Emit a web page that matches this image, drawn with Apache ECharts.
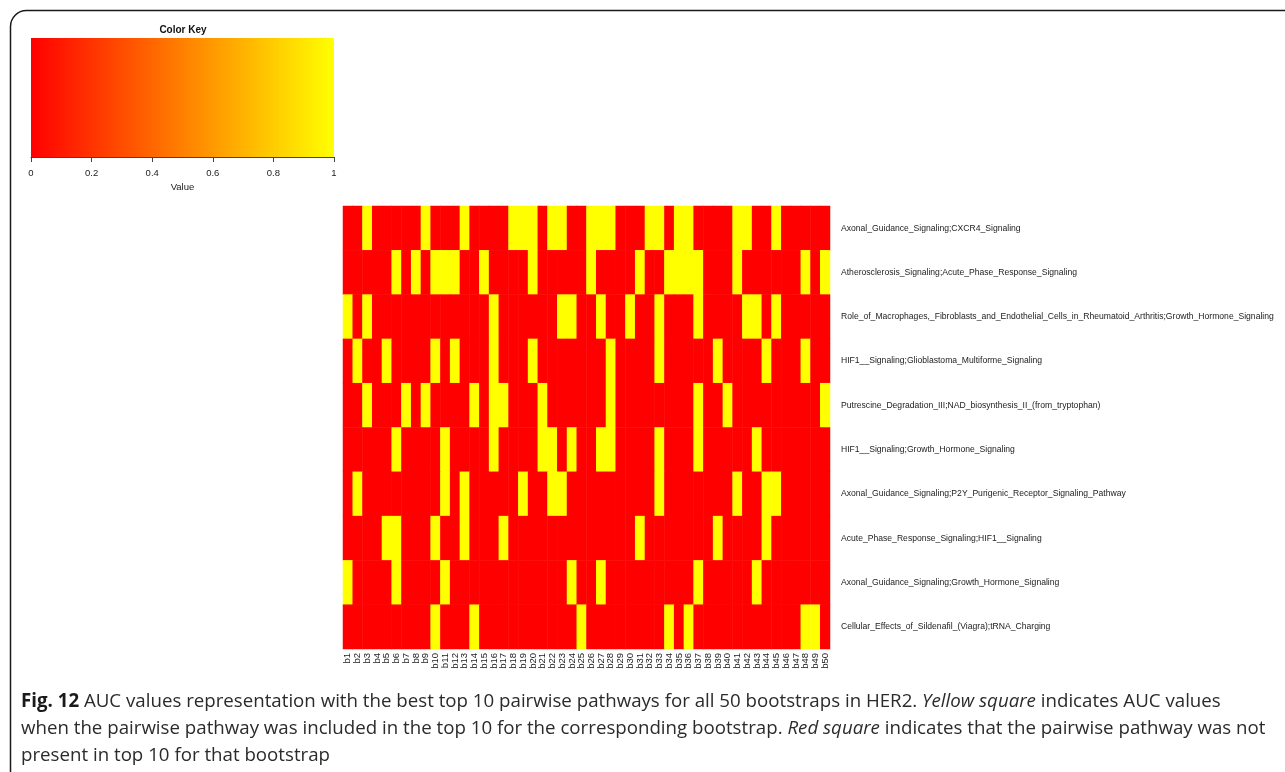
<!DOCTYPE html>
<html>
<head>
<meta charset="utf-8">
<script src="https://cdn.jsdelivr.net/npm/echarts@6/dist/echarts.min.js"></script>
<style>
html,body{margin:0;padding:0;background:#fff;}
#chart{width:1285px;height:772px;}
</style>
</head>
<body>
<div id="chart"></div>
<script>
// ---- data ----
const bootstraps = Array.from({length: 50}, (_, i) => 'b' + (i + 1));
const pathways = [
  'Axonal_Guidance_Signaling;CXCR4_Signaling',
  'Atherosclerosis_Signaling;Acute_Phase_Response_Signaling',
  'Role_of_Macrophages,_Fibroblasts_and_Endothelial_Cells_in_Rheumatoid_Arthritis;Growth_Hormone_Signaling',
  'HIF1__Signaling;Glioblastoma_Multiforme_Signaling',
  'Putrescine_Degradation_III;NAD_biosynthesis_II_(from_tryptophan)',
  'HIF1__Signaling;Growth_Hormone_Signaling',
  'Axonal_Guidance_Signaling;P2Y_Purigenic_Receptor_Signaling_Pathway',
  'Acute_Phase_Response_Signaling;HIF1__Signaling',
  'Axonal_Guidance_Signaling;Growth_Hormone_Signaling',
  'Cellular_Effects_of_Sildenafil_(Viagra);tRNA_Charging'
];
// values per pathway over b1..b50 (1 = in top 10 / yellow, 0 = absent / red)
const row1 = [0,0,1,0,0,0,0,0,1,0, 0,0,1,0,0,0,0,1,1,1, 0,1,1,0,0,1,1,1,0,0, 0,1,1,0,1,1,0,0,0,0, 1,1,0,0,1,0,0,0,0,0];
const row2 = [0,0,0,0,0,1,0,1,0,1, 1,1,0,0,1,0,0,0,0,1, 0,0,0,0,0,1,0,0,0,0, 1,0,0,1,1,1,1,0,0,0, 1,0,0,0,0,0,0,1,0,1];
const row3 = [1,0,1,0,0,0,0,0,0,0, 0,0,0,0,0,1,0,0,0,0, 0,0,1,1,0,0,1,0,0,1, 0,0,1,0,0,0,1,0,0,0, 0,1,1,0,1,0,0,0,0,0];
const row4 = [0,1,0,0,1,0,0,0,0,1, 0,1,0,0,0,1,0,0,0,1, 0,0,0,0,0,0,0,1,0,0, 0,0,1,0,0,0,0,0,1,0, 0,0,0,1,0,0,0,1,0,0];
const row5 = [0,0,1,0,0,0,1,0,1,0, 0,0,0,1,0,1,1,0,0,0, 1,0,0,0,0,0,0,1,0,0, 0,0,0,0,0,0,1,0,0,1, 0,0,0,0,0,0,0,0,0,1];
const row6 = [0,0,0,0,0,1,0,0,0,0, 1,0,0,0,0,1,0,0,0,0, 1,1,0,1,0,0,1,1,0,0, 0,0,1,0,0,0,1,0,0,0, 0,0,1,0,0,0,0,0,0,0];
const row7 = [0,1,0,0,0,0,0,0,0,0, 1,0,1,0,0,0,0,0,1,0, 0,1,1,0,0,0,0,0,0,0, 0,0,1,0,0,0,0,0,0,0, 1,0,0,1,1,0,0,0,0,0];
const row8 = [0,0,0,0,1,1,0,0,0,1, 0,0,1,0,0,0,1,0,0,0, 0,0,0,0,0,0,0,0,0,0, 1,0,0,0,0,0,0,0,1,0, 0,0,0,1,0,0,0,0,0,0];
const row9 = [1,0,0,0,0,1,0,0,0,0, 1,0,0,0,0,0,0,0,0,0, 0,0,0,1,0,0,1,0,0,0, 0,0,0,0,0,0,1,0,0,0, 0,0,1,0,0,0,0,0,0,0];
const row10 = [0,0,0,0,0,0,0,0,0,1, 0,0,0,1,0,0,0,0,0,0, 0,0,0,0,1,0,0,0,0,0, 0,0,0,1,0,1,0,0,0,0, 0,0,0,0,0,0,0,1,1,0];
const rows = [row1,row2,row3,row4,row5,row6,row7,row8,row9,row10];
const keyTicks = [0, 0.2, 0.4, 0.6, 0.8, 1];

const cells = [];
rows.forEach((r, yi) => r.forEach((v, xi) => cells.push([xi, yi, v])));

const chart = echarts.init(document.getElementById('chart'));
const RED = '#FF0000', YEL = '#FFFF00';
const capFont = '"Open Sans", "DejaVu Sans", sans-serif';
const capSize = 18.7;
const capColor = '#2b2b2b';
const lab = 'Liberation Sans, Arial, sans-serif';
chart.setOption({
  animation: false,
  backgroundColor: '#fff',
  title: {
    text: 'Color Key', left: 183, top: 25, textAlign: 'center', padding: 0,
    textStyle: {fontFamily: lab, fontSize: 10, fontWeight: 'bold', color: '#111'}
  },
  grid: [
    {left: 343, top: 206, width: 487, height: 443, outerBoundsMode: 'none', containLabel: false},
    {left: 31, top: 38, width: 303, height: 119, show: true, borderWidth: 0,
     outerBoundsMode: 'none', containLabel: false,
     backgroundColor: new echarts.graphic.LinearGradient(0, 0, 1, 0, [
       {offset: 0, color: RED}, {offset: 0.5, color: '#FF8000'}, {offset: 1, color: YEL}])}
  ],
  xAxis: [
    {type: 'category', gridIndex: 0, data: bootstraps, position: 'bottom',
     axisLine: {show: false}, axisTick: {show: false}, splitLine: {show: false},
     axisLabel: {rotate: 90, interval: 0, fontSize: 9.5, margin: 4, color: '#222', fontFamily: lab}},
    {type: 'value', gridIndex: 1, min: 0, max: 1, interval: 0.2,
     name: 'Value', nameLocation: 'middle', nameGap: 25,
     nameTextStyle: {fontSize: 9.5, color: '#222', fontFamily: lab},
     axisLine: {show: true, lineStyle: {color: '#444', width: 1}},
     axisTick: {show: true, length: 5, lineStyle: {color: '#444'}},
     splitLine: {show: false},
     axisLabel: {fontSize: 9.5, margin: 11, color: '#222', fontFamily: lab,
       formatter: v => String(+v.toFixed(1))}}
  ],
  yAxis: [
    {type: 'category', gridIndex: 0, data: pathways, inverse: true, position: 'right',
     axisLine: {show: false}, axisTick: {show: false}, splitLine: {show: false},
     axisLabel: {fontSize: 8.6, margin: 11, color: '#222', align: 'left', fontFamily: lab}},
    {type: 'value', gridIndex: 1, min: 0, max: 1, show: false}
  ],
  visualMap: {show: false, min: 0, max: 1, seriesIndex: 0, inRange: {color: [RED, '#FF8000', YEL]}},
  series: [{
    type: 'heatmap', xAxisIndex: 0, yAxisIndex: 0, data: cells,
    itemStyle: {borderWidth: 0}, emphasis: {disabled: true}
  }],
  graphic: [
    {type: 'rect', silent: true, shape: {x: 10.5, y: 10.5, width: 1320, height: 776, r: 16},
     style: {fill: 'none', stroke: '#1a1a1a', lineWidth: 1.5}},
    {type: 'text', left: 21, top: 692, silent: true,
     style: {text: '{b|Fig. 12} AUC values representation with the best top 10 pairwise pathways for all 50 bootstraps in HER2. {i|Yellow square} indicates AUC values',
       font: capSize + 'px ' + capFont, fill: capColor,
       rich: {b: {fontWeight: 'bold', fontSize: capSize, fontFamily: capFont, fill: '#1a1a1a'},
              i: {fontStyle: 'italic', fontSize: capSize, fontFamily: capFont, fill: capColor}}}},
    {type: 'text', left: 21, top: 719, silent: true,
     style: {text: 'when the pairwise pathway was included in the top 10 for the corresponding bootstrap. {i|Red square} indicates that the pairwise pathway was not',
       font: capSize + 'px ' + capFont, fill: capColor,
       rich: {i: {fontStyle: 'italic', fontSize: capSize, fontFamily: capFont, fill: capColor}}}},
    {type: 'text', left: 21, top: 746, silent: true,
     style: {text: 'present in top 10 for that bootstrap', font: capSize + 'px ' + capFont, fill: capColor}}
  ]
});
</script>
</body>
</html>
